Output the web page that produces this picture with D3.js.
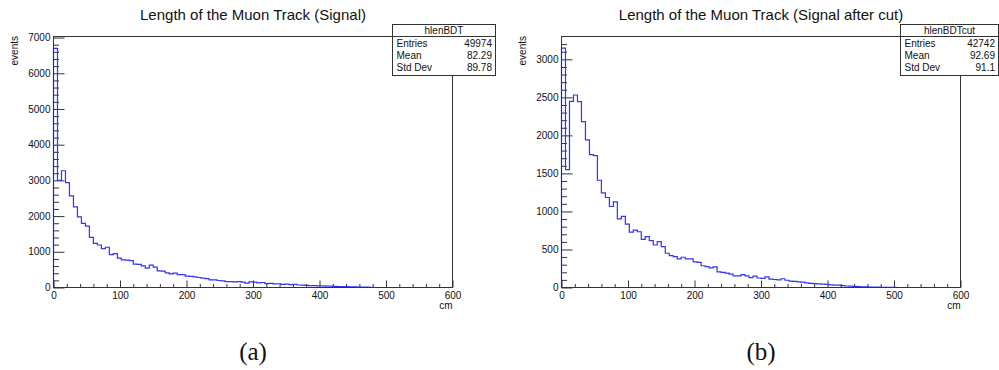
<!DOCTYPE html>
<html>
<head>
<meta charset="utf-8">
<script src="https://cdn.jsdelivr.net/npm/d3@7"></script>
<style>
body { margin: 0; background: #fff; }
svg { display: block; }
text { font-family: "Liberation Sans", Arial, Helvetica, sans-serif; fill: #111; }
</style>
</head>
<body>
<svg id="chart" width="999" height="370"></svg>
<script>
// histogram: 100 bins of 6 cm from 0 to 600
const binWidth = 6;

const signal = [6700, 3000, 3270, 2940, 2566, 2259, 1980, 1795, 1720, 1405,
    1238, 1190, 1088, 1127, 920, 948, 820, 772, 765, 753,
    652, 650, 605, 541, 625, 569, 466, 460, 410, 382,
    400, 363, 363, 317, 310, 300, 280, 262, 250, 215,
    215, 196, 186, 167, 167, 158, 167, 149, 120, 158,
    150, 130, 140, 110, 115, 100, 105, 90, 95, 80,
    85, 70, 65, 60, 55, 50, 48, 45, 40, 38,
    30, 28, 25, 22, 18, 15, 12, 10, 8, 6];

const signalCut = [3147, 1550, 2448, 2531, 2444, 2182, 1942, 1746, 1733, 1410,
    1244, 1183, 1065, 1126, 903, 934, 834, 729, 755, 733,
    633, 668, 616, 559, 603, 537, 450, 420, 407, 376,
    398, 376, 376, 338, 330, 286, 275, 258, 271, 206,
    200, 188, 175, 153, 153, 170, 153, 130, 150, 125,
    120, 140, 110, 105, 100, 115, 95, 85, 80, 75,
    70, 60, 55, 50, 48, 45, 40, 35, 30, 30,
    25, 20, 18, 15, 12, 10, 8, 6, 5, 4,
    3, 2, 2, 1];

const statNames = ["Entries", "Mean", "Std Dev"];
const statsSignal = ["49974", "82.29", "89.78"];
const statsCut = ["42742", "92.69", "91.1"];

const xMajor = [0, 100, 200, 300, 400, 500, 600];
const yMajorA = [0, 1000, 2000, 3000, 4000, 5000, 6000, 7000];
const yMajorB = [0, 500, 1000, 1500, 2000, 2500, 3000];

let svg = d3.select('#chart');
let frameColor = '#333';
let histColor = '#3434f2';
let fmt = d3.format('d');

function panel(p) {
    let x = d3.scaleLinear().domain([0, 600]).range([p.left, p.right]);
    let y = d3.scaleLinear().domain([0, p.ymax]).range([p.bottom, p.top]);
    let g = svg.append('g');

    // title
    g.append('text')
        .attr('x', (p.left + p.right) / 2)
        .attr('y', 19.5)
        .attr('text-anchor', 'middle')
        .style('font-size', '15px')
        .text(p.title);

    // minor ticks
    let xMinor = d3.range(0, 601, 20).filter(d => d % 100 !== 0);
    g.append('g')
        .attr('transform', 'translate(0,' + p.bottom + ')')
        .call(d3.axisBottom(x).tickValues(xMinor).tickSizeInner(-3.5).tickSizeOuter(0).tickFormat(''))
        .call(a => a.select('.domain').remove());
    let yMinor = d3.range(0, p.ymax, p.yMinorStep).filter(d => d % p.yMajorStep !== 0);
    g.append('g')
        .attr('transform', 'translate(' + p.left + ',0)')
        .call(d3.axisLeft(y).tickValues(yMinor).tickSizeInner(-5.5).tickSizeOuter(0).tickFormat(''))
        .call(a => a.select('.domain').remove());

    // major ticks + labels
    let xa = g.append('g')
        .attr('transform', 'translate(0,' + p.bottom + ')')
        .call(d3.axisBottom(x).tickValues(xMajor).tickFormat(fmt).tickSizeInner(-7).tickSizeOuter(0).tickPadding(4));
    let ya = g.append('g')
        .attr('transform', 'translate(' + p.left + ',0)')
        .call(d3.axisLeft(y).tickValues(p.yMajor).tickFormat(fmt).tickSizeInner(-11).tickSizeOuter(0).tickPadding(3));
    [xa, ya].forEach(a => {
        a.select('.domain').remove();
        a.selectAll('text').style('font-size', '10px').style('font-family', '"Liberation Sans", Arial, sans-serif').attr('fill', '#111');
    });
    g.selectAll('.tick line').attr('stroke', frameColor);

    // histogram outline
    let pts = [[0, 0]];
    p.values.forEach(function (v, i) {
        pts.push([i * binWidth, v]);
        pts.push([(i + 1) * binWidth, v]);
    });
    pts.push([p.values.length * binWidth, 0]);
    g.append('path')
        .datum(pts)
        .attr('fill', 'none')
        .attr('stroke', histColor)
        .attr('stroke-width', 1.2)
        .attr('d', d3.line().x(d => x(d[0])).y(d => y(d[1])));

    // frame
    g.append('rect')
        .attr('x', p.left).attr('y', p.top)
        .attr('width', p.right - p.left).attr('height', p.bottom - p.top)
        .attr('fill', 'none').attr('stroke', frameColor).attr('stroke-width', 1);

    // axis titles
    g.append('text')
        .attr('transform', 'translate(' + (p.left - 36) + ',' + (p.top - 0.5) + ') rotate(-90)')
        .attr('text-anchor', 'end')
        .style('font-size', '10px')
        .text('events');
    g.append('text')
        .attr('x', p.right).attr('y', 309)
        .attr('text-anchor', 'end')
        .style('font-size', '10px')
        .text('cm');

    // stat box
    let bx = p.boxLeft, bw = p.boxRight - p.boxLeft, by = 24.5, bh = 51;
    g.append('rect')
        .attr('x', bx).attr('y', by).attr('width', bw).attr('height', bh)
        .attr('fill', '#fff').attr('stroke', frameColor);
    g.append('line')
        .attr('x1', bx).attr('x2', bx + bw)
        .attr('y1', by + 12).attr('y2', by + 12)
        .attr('stroke', frameColor);
    g.append('text')
        .attr('x', bx + bw / 2).attr('y', by + 6).attr('dy', '0.35em')
        .attr('text-anchor', 'middle')
        .style('font-size', '10px')
        .text(p.name);
    statNames.forEach(function (n, i) {
        let cy = by + 12 + 6.5 + i * 12.3;
        g.append('text')
            .attr('x', bx + 4).attr('y', cy).attr('dy', '0.35em')
            .style('font-size', '10px')
            .text(n);
        g.append('text')
            .attr('x', bx + bw - 3.5).attr('y', cy).attr('dy', '0.35em')
            .attr('text-anchor', 'end')
            .style('font-size', '10px')
            .text(p.stats[i]);
    });

    // sub caption
    svg.append('text')
        .attr('x', (p.left + p.right) / 2).attr('y', 360)
        .attr('text-anchor', 'middle')
        .style('font-family', '"Liberation Serif", "DejaVu Serif", serif')
        .style('font-size', '25px')
        .text(p.caption);
}

panel({
    left: 53.5, right: 452.5, top: 36.5, bottom: 287.5,
    ymax: 7030, yMajor: yMajorA, yMajorStep: 1000, yMinorStep: 200,
    values: signal, title: 'Length of the Muon Track (Signal)',
    name: 'hlenBDT', stats: statsSignal, boxLeft: 392.5, boxRight: 495.5, caption: '(a)'
});
panel({
    left: 561.5, right: 960.5, top: 36.5, bottom: 287.5,
    ymax: 3300, yMajor: yMajorB, yMajorStep: 500, yMinorStep: 100,
    values: signalCut, title: 'Length of the Muon Track (Signal after cut)',
    name: 'hlenBDTcut', stats: statsCut, boxLeft: 900.5, boxRight: 998.5, caption: '(b)'
});
</script>
</body>
</html>
